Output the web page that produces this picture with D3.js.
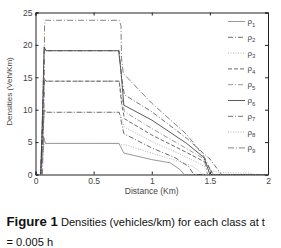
<!DOCTYPE html>
<html>
<head>
<meta charset="utf-8">
<script src="https://cdn.jsdelivr.net/npm/d3@7"></script>
<style>
  html, body { margin: 0; padding: 0; background: #fff; }
  svg { display: block; }
  .tick text { font-family: "Liberation Sans", Arial, sans-serif; font-size: 8.5px; fill: #444; }
  .caption { font-family: "Liberation Sans", Arial, sans-serif; font-size: 11.1px; fill: #111; }
</style>
</head>
<body>
<div id="chart"></div>
<script>
// tick values
const xTicks = [0, 0.5, 1, 1.5, 2];
const yTicks = [0, 5, 10, 15, 20, 25];

// class labels (subscripts)
const classes = ["1", "2", "3", "4", "5", "6", "7", "8", "9"];

// density profiles: [distance km, veh/km]
const rho1 = [[0.045,0],[0.06,2.5],[0.072,5.7],[0.085,4.8],[0.715,4.8],[0.73,4.4],[0.76,3.3],[1.0,2.3],[1.16,1.8],[1.24,0.8],[1.28,0],[2,0]];
const rho2 = [[0.045,0],[0.06,5],[0.075,10.1],[0.09,9.6],[0.72,9.6],[0.74,8],[0.76,6.3],[1.0,4.1],[1.2,2.6],[1.32,1.2],[1.36,0],[2,0]];
const rho3 = [[0.045,0],[0.062,5],[0.076,9.9],[0.09,9.6],[0.72,9.6],[0.745,8.5],[0.765,7.3],[1.0,5.1],[1.25,3.1],[1.42,1.6],[1.5,0.6],[1.6,0.3],[1.85,0.2],[1.88,0],[2,0]];
const rho4 = [[0.045,0],[0.06,7],[0.074,14.8],[0.09,14.4],[0.72,14.4],[0.74,11],[0.765,8.6],[1.0,6.1],[1.3,3.4],[1.47,1.8],[1.53,0],[2,0]];
const rho5 = [[0.045,0],[0.06,7],[0.075,14.9],[0.09,14.4],[0.72,14.4],[0.74,12],[0.765,9.7],[1.0,7.1],[1.3,4.0],[1.45,2.4],[1.48,0],[2,0]];
const rho6 = [[0.045,0],[0.06,9],[0.074,19.7],[0.09,19.1],[0.715,19.1],[0.735,16],[0.76,10.7],[1.0,8.4],[1.3,4.8],[1.45,2.6],[1.5,0],[2,0]];
const rho7 = [[0.045,0],[0.06,9],[0.075,19.4],[0.09,19.1],[0.72,19.1],[0.74,15],[0.765,12.3],[1.0,9.7],[1.3,5.6],[1.5,2.4],[1.6,0],[2,0]];
const rho8 = [[0.045,0],[0.062,2.6],[0.074,5.2],[0.088,4.8],[0.715,4.8],[0.74,4.6],[0.77,4.6],[1.0,3.3],[1.2,2.2],[1.35,1.3],[1.42,0.3],[1.45,0],[2,0]];
const rho9 = [[0.06,0],[0.075,12],[0.078,23],[0.085,23.8],[0.72,23.8],[0.735,23],[0.74,18],[0.755,15.6],[1.0,11],[1.3,6.2],[1.45,2.8],[1.52,0],[2,0]];

const series = [rho1, rho2, rho3, rho4, rho5, rho6, rho7, rho8, rho9];

// line styles per class (legend order)
const styles = [
    { color: "#777777", dash: null },
    { color: "#3a3a3a", dash: "5,2,1,2" },
    { color: "#999999", dash: "1,1.5" },
    { color: "#3a3a3a", dash: "4,2" },
    { color: "#777777", dash: "5,2,1,2" },
    { color: "#2a2030", dash: null },
    { color: "#444444", dash: "5,2,1,2" },
    { color: "#999999", dash: "1,1.5" },
    { color: "#5a5a5a", dash: "6,2,1,2" }
];

const width = 281, height = 248;
const margin = { top: 12.5, right: 13, bottom: 73.5, left: 35.5 };
const iw = width - margin.left - margin.right;
const ih = height - margin.top - margin.bottom;

const svg = d3.select("#chart").append("svg")
    .attr("width", width)
    .attr("height", height);

const x = d3.scaleLinear().domain([0, 2]).range([0, iw]);
const y = d3.scaleLinear().domain([0, 25]).range([ih, 0]);

const g = svg.append("g")
    .attr("transform", "translate(" + margin.left + "," + margin.top + ")");

// axes, ticks pointing inward (matlab style)
g.append("g")
    .attr("transform", "translate(0," + ih + ")")
    .call(d3.axisBottom(x).tickValues(xTicks).tickSize(-3).tickPadding(3).tickFormat(d3.format("")));
g.append("g")
    .call(d3.axisTop(x).tickValues(xTicks).tickSize(-3).tickFormat(""));
g.append("g")
    .call(d3.axisLeft(y).tickValues(yTicks).tickSize(-3).tickPadding(3));
g.append("g")
    .attr("transform", "translate(" + iw + ",0)")
    .call(d3.axisRight(y).tickValues(yTicks).tickSize(-3).tickFormat(""));

g.selectAll(".domain").attr("stroke", "#222").attr("stroke-width", 1);
g.selectAll(".tick line").attr("stroke", "#222");

// density lines
const line = d3.line()
    .x(d => x(d[0]))
    .y(d => y(d[1]));

g.selectAll(".rho")
    .data(series)
    .enter().append("path")
    .attr("class", "rho")
    .attr("d", line)
    .attr("fill", "none")
    .attr("stroke", (d, i) => styles[i].color)
    .attr("stroke-width", 0.75)
    .attr("stroke-dasharray", (d, i) => styles[i].dash);

// legend
const legend = g.append("g").attr("transform", "translate(" + (iw - 40) + ",9)");
const row = legend.selectAll(".row")
    .data(classes)
    .enter().append("g")
    .attr("transform", (d, i) => "translate(0," + (i * 15.8) + ")");

row.append("line")
    .attr("x1", 0).attr("x2", 17)
    .attr("stroke", (d, i) => styles[i].color)
    .attr("stroke-width", 0.75)
    .attr("stroke-dasharray", (d, i) => styles[i].dash);

const lbl = row.append("text")
    .attr("x", 19.5)
    .attr("y", 2.5)
    .style("font-family", "'Liberation Sans', Arial, sans-serif")
    .style("font-size", "8px")
    .attr("fill", "#444");
lbl.append("tspan").text("ρ");
lbl.append("tspan").attr("dy", 2.5).style("font-size", "6px").text(d => d);

// axis labels
g.append("text")
    .attr("x", iw / 2)
    .attr("y", ih + 19)
    .attr("text-anchor", "middle")
    .style("font-family", "'Liberation Sans', Arial, sans-serif")
    .style("font-size", "8.5px")
    .attr("fill", "#444")
    .text("Distance (Km)");

g.append("text")
    .attr("transform", "translate(-24," + (ih / 2 - 2) + ") rotate(-90)")
    .attr("text-anchor", "middle")
    .style("font-family", "'Liberation Sans', Arial, sans-serif")
    .style("font-size", "8px")
    .attr("fill", "#444")
    .text("Densities (Veh/Km)");

// caption
const cap = svg.append("text")
    .attr("class", "caption")
    .attr("x", 6.5)
    .attr("y", 225.5);
cap.append("tspan").style("font-weight", "bold").style("font-size", "13.2px").text("Figure 1");
cap.append("tspan").text(" Densities (vehicles/km) for each class at t");

svg.append("text")
    .attr("class", "caption")
    .attr("x", 6.5)
    .attr("y", 246)
    .text("= 0.005 h");
</script>
</body>
</html>
